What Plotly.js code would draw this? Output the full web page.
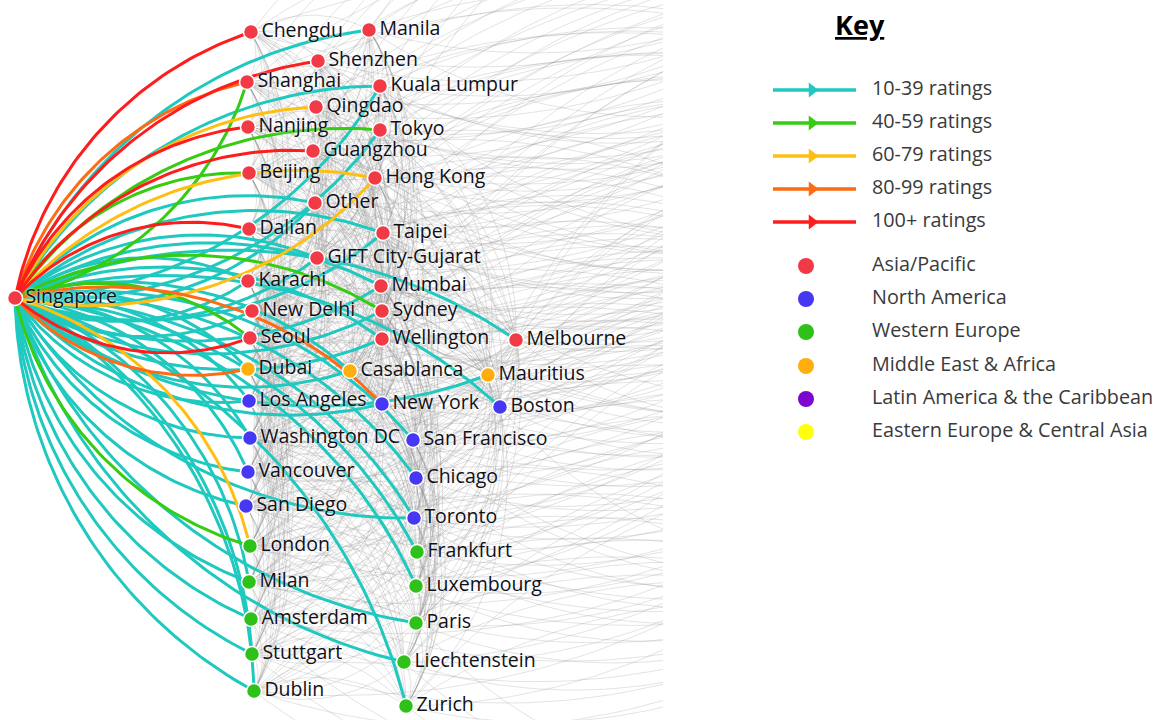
<!DOCTYPE html>
<html><head><meta charset="utf-8">
<script src="https://cdn.plot.ly/plotly-3.0.1.min.js"></script>
<style>html,body{margin:0;padding:0;background:#fff}#chart{width:1166px;height:720px}</style>
</head><body><div id="chart"></div>
<script>
// ---- Nodes (layout position in the network drawing, region index) ----
const cityNames = ["Singapore","Chengdu","Manila","Shenzhen","Shanghai","Kuala Lumpur","Qingdao","Nanjing","Tokyo","Guangzhou","Beijing","Hong Kong","Other","Dalian","Taipei","GIFT City-Gujarat","Karachi","Mumbai","New Delhi","Sydney","Seoul","Wellington","Melbourne","Dubai","Casablanca","Mauritius","Los Angeles","New York","Boston","Washington DC","San Francisco","Vancouver","Chicago","San Diego","Toronto","London","Frankfurt","Milan","Luxembourg","Amsterdam","Paris","Stuttgart","Liechtenstein","Dublin","Zurich"];
const cityX = [15,251,369,318,247,380,316,248,380,313,249,375,315,249,383,317,248,381,252,382,250,382,516,248,350,488,249,382,500,250,413,248,416,246,414,250,417,249,416,251,416,252,404,254,406];
const cityY = [298,32,30,61,82,86,107,127,130,151,173,178,203,229,233,258,281,286,311,311,338,339,340,369,371,375,401,404,407,438,440,472,478,506,518,546,552,582,586,619,623,654,662,691,706];
const cityRegion = [0,0,0,0,0,0,0,0,0,0,0,0,0,0,0,0,0,0,0,0,0,0,0,3,3,3,1,1,1,1,1,1,1,1,1,2,2,2,2,2,2,2,2,2,2];

// ---- Regions ----
const regionNames = ["Asia/Pacific","North America","Western Europe","Middle East & Africa","Latin America & the Caribbean","Eastern Europe & Central Asia"];
const regionColors = ["#f23a47","#4537f2","#2dc11a","#ffae0c","#7d05cf","#ffff0a"];

// ---- Rating bins ----
const binNames = ["10-39 ratings","40-59 ratings","60-79 ratings","80-99 ratings","100+ ratings"];
const binColors = ["#1fc9bf","#35cc12","#ffbf12","#ff6a12","#ff1c1c"];

// ---- Rated links to/from Singapore ----
const edgeFrom = ["Singapore","Singapore","Singapore","Singapore","Singapore","Singapore","Singapore","Singapore","Singapore","Singapore","Singapore","Singapore","Singapore","Singapore","Singapore","Singapore","Singapore","Singapore","Singapore","Singapore","Singapore","Singapore","Singapore","Singapore","Singapore","Singapore","Singapore","Singapore","Singapore","Singapore","Singapore",
 "Singapore","Singapore","Singapore","Singapore","Singapore","Singapore","Singapore",
 "Shanghai","Kuala Lumpur","Tokyo","Hong Kong","New Delhi","Seoul","Dubai","Casablanca","Mauritius","Los Angeles","New York","Washington DC","Vancouver","San Diego","Toronto","London","Milan","Amsterdam","Paris","Stuttgart","Liechtenstein","Dublin",
 "Other","Taipei","GIFT City-Gujarat","Karachi","Mumbai","Wellington","Sydney"];
const edgeTo = ["Chengdu","Manila","Shenzhen","Shanghai","Kuala Lumpur","Qingdao","Nanjing","Tokyo","Guangzhou","Beijing","Hong Kong","Other","Dalian","Taipei","GIFT City-Gujarat","Karachi","Mumbai","Sydney","Seoul","Wellington","Melbourne","Boston","New York","San Francisco","Chicago","London","Frankfurt","Luxembourg","Zurich","Dublin","Stuttgart",
 "Los Angeles","Washington DC","Vancouver","Casablanca","Toronto","Dubai","Milan",
 "Singapore","Singapore","Singapore","Singapore","Singapore","Singapore","Singapore","Singapore","Singapore","Singapore","Singapore","Singapore","Singapore","Singapore","Singapore","Singapore","Singapore","Singapore","Singapore","Singapore","Singapore","Singapore",
 "Singapore","Singapore","Singapore","Singapore","Singapore","Singapore","Singapore"];
const edgeBin = [4,0,4,3,0,2,4,1,4,1,2,0,4,0,0,0,0,1,1,0,0,0,3,0,0,2,0,0,0,0,0,
 0,0,0,0,0,0,0,
 1,0,0,2,0,4,3,0,0,0,0,0,0,0,0,1,0,0,0,0,0,0,
 0,0,0,0,0,0,0];

// ---- Off-screen part of the network (links leaving the visible crop) ----
const offNodeX = [880,960,1040,900,1000,920,880,960,1040,920,1000,900];
const offNodeY = [-220,-120,-20,60,140,220,300,380,470,560,660,780];

// arc with radius equal to the chord, bulging to the left of travel direction
function arc(x1,y1,x2,y2,n){
  const dx=x2-x1, dy=y2-y1, d=Math.hypot(dx,dy);
  const bx=dy/d, by=-dx/d;
  const mx=(x1+x2)/2, my=(y1+y2)/2, k=Math.sqrt(3)/2*d;
  const cx=mx-bx*k, cy=my-by*k;
  const a1=Math.atan2(y1-cy,x1-cx);
  let da=Math.atan2(y2-cy,x2-cx)-a1;
  while(da>Math.PI) da-=2*Math.PI;
  while(da<-Math.PI) da+=2*Math.PI;
  const xs=[], ys=[];
  for(let i=0;i<=n;i++){const a=a1+da*i/n; xs.push(cx+d*Math.cos(a)); ys.push(cy+d*Math.sin(a));}
  return [xs,ys];
}
const idx = name => cityNames.indexOf(name);
const traces = [];

// gray background mesh
const gx=[], gy=[];
for(let i=1;i<cityNames.length;i++){
  for(let j=i+1;j<cityNames.length;j++){
    const d=Math.hypot(cityX[i]-cityX[j],cityY[i]-cityY[j]);
    if(d<320){
      const [xs,ys]=arc(cityX[i],cityY[i],cityX[j],cityY[j],16);
      gx.push(...xs,null); gy.push(...ys,null);
    }
  }
  for(let j=0;j<offNodeX.length;j++){
    const off=offNodeY[j]-cityY[i];
    if(off>-400 && off<170){
      const [xs,ys]= (j%2===0) ? arc(cityX[i],cityY[i],offNodeX[j],offNodeY[j],60) : arc(offNodeX[j],offNodeY[j],cityX[i],cityY[i],60);
      gx.push(...xs,null); gy.push(...ys,null);
    }
  }
}
traces.push({type:'scatter',mode:'lines',x:gx,y:gy,line:{color:'rgba(140,140,140,0.3)',width:0.8},hoverinfo:'skip',showlegend:false,xaxis:'x',yaxis:'y'});

// rated links, one trace per bin
for(let b=0;b<binNames.length;b++){
  const ex=[], ey=[];
  for(let e=0;e<edgeFrom.length;e++){
    if(edgeBin[e]!==b) continue;
    const f=idx(edgeFrom[e]), t=idx(edgeTo[e]);
    const [xs,ys]=arc(cityX[f],cityY[f],cityX[t],cityY[t],60);
    ex.push(...xs,null); ey.push(...ys,null);
  }
  traces.push({type:'scatter',mode:'lines',x:ex,y:ey,line:{color:binColors[b],width:3},hoverinfo:'skip',showlegend:false,xaxis:'x',yaxis:'y'});
}

// nodes
traces.push({type:'scatter',mode:'markers+text',x:cityX,y:cityY,text:cityNames,textposition:'middle right',
  marker:{size:15,color:cityRegion.map(r=>regionColors[r]),line:{color:'#ffffff',width:1.5}},
  textfont:{family:'Open Sans',size:19.5,color:'#101018',shadow:'0px 0px 3px #ffffff'},
  cliponaxis:false,hoverinfo:'text',showlegend:false,xaxis:'x',yaxis:'y'});

// ---- Key ----
const keyLineY=[90,123,156,189,222];
const keyRegionY=[266,299,332,366,399,432];
for(let b=0;b<binNames.length;b++){
  traces.push({type:'scatter',mode:'lines',x:[773,856],y:[keyLineY[b],keyLineY[b]],line:{color:binColors[b],width:3.5},hoverinfo:'skip',showlegend:false,xaxis:'x2',yaxis:'y2'});
}
traces.push({type:'scatter',mode:'markers',x:keyLineY.map(()=>812),y:keyLineY,marker:{symbol:'triangle-right',size:13,color:binColors},hoverinfo:'skip',showlegend:false,xaxis:'x2',yaxis:'y2'});
traces.push({type:'scatter',mode:'text',x:keyLineY.map(()=>872),y:keyLineY,text:binNames,textposition:'middle right',textfont:{family:'Open Sans',size:19.8,color:'#3a3a3a'},hoverinfo:'skip',showlegend:false,cliponaxis:false,xaxis:'x2',yaxis:'y2'});
traces.push({type:'scatter',mode:'markers',x:keyRegionY.map(()=>806),y:keyRegionY,marker:{size:16,color:regionColors},hoverinfo:'skip',showlegend:false,xaxis:'x2',yaxis:'y2'});
traces.push({type:'scatter',mode:'text',x:keyRegionY.map(()=>872),y:keyRegionY,text:regionNames,textposition:'middle right',textfont:{family:'Open Sans',size:19.8,color:'#3a3a3a'},hoverinfo:'skip',showlegend:false,cliponaxis:false,xaxis:'x2',yaxis:'y2'});

const split=663/1166;
const ax = {visible:false,showgrid:false,zeroline:false,fixedrange:true};
const layout={
  width:1166,height:720,margin:{l:0,r:0,t:0,b:0},paper_bgcolor:'#fff',plot_bgcolor:'#fff',
  xaxis:Object.assign({domain:[0,split],range:[0,663]},ax),
  yaxis:Object.assign({domain:[0,1],range:[720,0]},ax),
  xaxis2:Object.assign({domain:[split,1],range:[663,1166],anchor:'y2'},ax),
  yaxis2:Object.assign({domain:[0,1],range:[720,0],anchor:'x2'},ax),
  annotations:[{xref:'x2',yref:'y2',x:860,y:24,text:'<b><u>Key</u></b>',showarrow:false,font:{family:'Open Sans',size:27,color:'#000'}}],
  showlegend:false
};
Plotly.newPlot('chart',traces,layout,{displayModeBar:false,staticPlot:true});
</script></body></html>
